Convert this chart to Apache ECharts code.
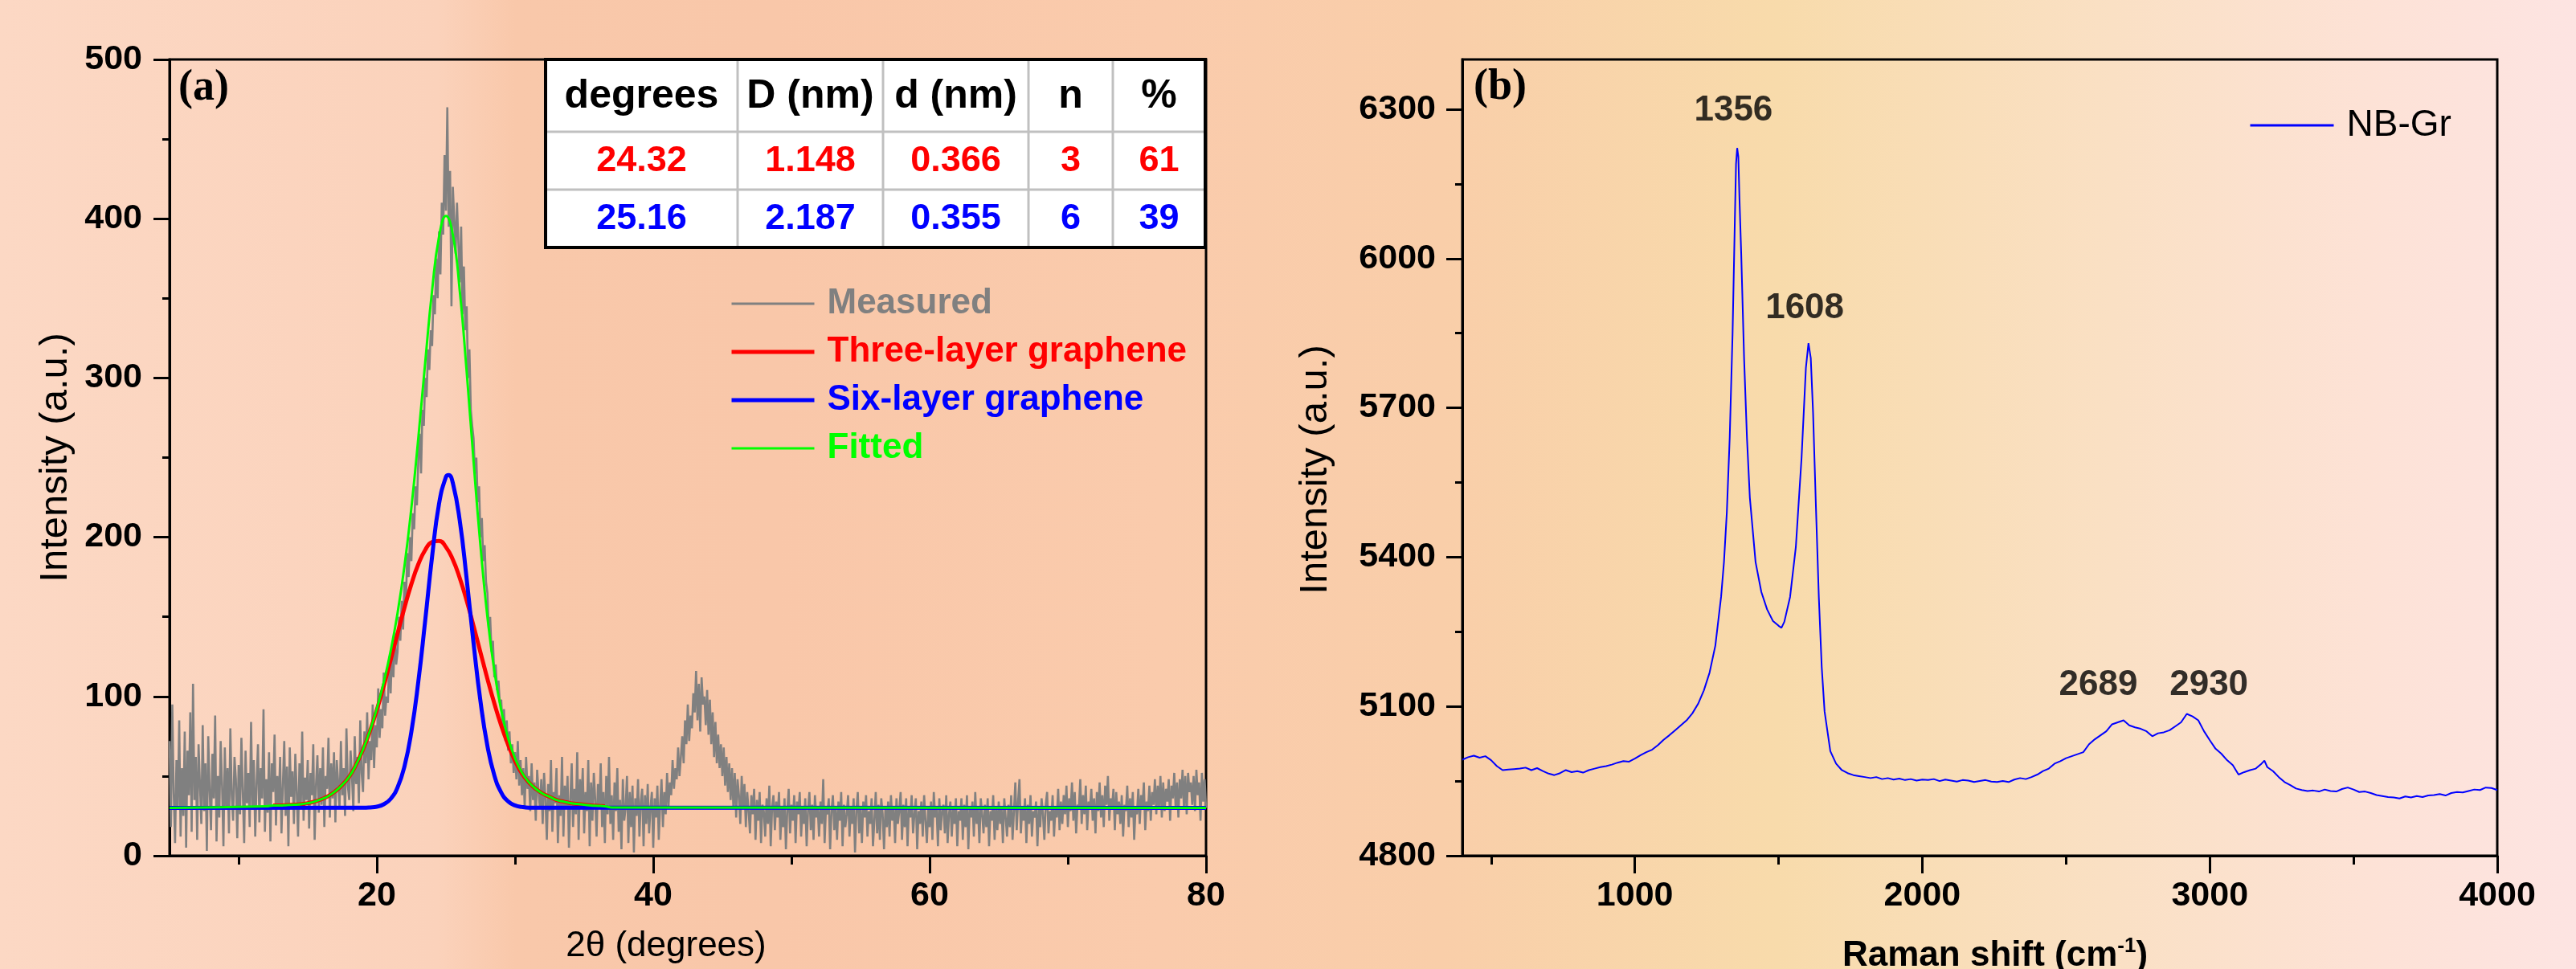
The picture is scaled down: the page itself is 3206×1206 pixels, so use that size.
<!DOCTYPE html>
<html>
<head>
<meta charset="utf-8">
<script src="https://cdn.jsdelivr.net/npm/echarts@6/dist/echarts.min.js"></script>
<style>
html,body{margin:0;padding:0;width:3206px;height:1206px;overflow:hidden;}
#c{width:3206px;height:1206px;
background:linear-gradient(to right,#fcd8c4 0%,#fbd2bb 17%,#f9c8aa 20%,#f9c7a9 30%,#facbac 45%,#f9cea9 56%,#f8dbab 69%,#fae0c4 82%,#fde2d6 92%,#fde4e2 100%);}
</style>
</head>
<body>
<div id="c"></div>
<script>
// ---------- (a) XRD data ----------
const xrdStart = 5, xrdStep = 0.1;
const measured = [
72,18,95,40,8,60,30,85,12,55,
25,78,5,66,38,90,15,108,35,62,
10,70,45,20,82,28,58,3,75,42,
16,64,36,88,9,50,24,72,44,6,
68,30,55,14,80,38,22,62,48,11,
57,26,74,40,8,66,33,52,18,84,
29,60,12,46,70,21,55,36,92,15,
48,27,65,9,58,40,76,19,50,31,
62,14,44,72,25,56,6,68,37,53,
20,64,41,12,58,30,78,22,49,35,
60,17,52,38,70,10,45,63,27,55,
32,68,18,50,42,74,24,58,36,65,
21,60,46,30,72,38,55,25,80,44,
35,66,50,28,75,45,62,33,85,52,
40,78,58,90,48,72,60,95,55,82,
68,105,74,92,80,115,88,100,96,125,
102,130,112,140,120,128,150,135,160,142,
172,158,190,175,200,185,215,205,232,220,
248,265,240,280,270,300,288,318,305,330,
320,352,340,375,350,392,365,410,390,440,
405,470,395,430,345,420,400,378,410,385,
360,395,340,370,330,345,300,318,280,270,
262,240,250,222,232,200,212,185,195,172,
165,142,150,128,135,112,120,104,110,96,
98,80,92,72,85,66,78,58,70,52,
65,48,72,44,60,38,55,30,62,42,
50,28,58,35,46,22,54,40,30,48,
20,52,36,10,45,28,60,15,40,33,
55,8,38,25,62,12,44,30,50,5,
35,58,18,42,26,65,10,48,32,55,
14,40,28,60,6,46,22,52,36,12,
45,30,58,18,40,8,50,26,62,20,
38,10,46,28,55,15,35,4,48,22,
30,50,8,40,18,44,2,36,25,48,
12,34,42,6,38,20,45,14,30,40,
5,36,24,44,10,32,48,18,40,26,
52,30,46,38,60,42,55,48,68,50,
62,75,58,85,70,95,72,88,80,102,
90,116,85,108,78,112,95,100,82,104,
76,98,70,90,62,84,58,76,55,70,
50,68,44,62,40,58,35,55,30,52,
24,48,38,20,50,30,45,18,40,28,
14,38,26,42,10,35,22,40,8,32,
28,12,36,20,44,6,30,38,16,34,
24,40,10,30,18,36,4,28,42,14,
32,22,38,8,34,26,40,12,30,20,
36,6,28,40,16,32,10,38,24,30,
12,34,20,48,8,30,26,36,4,28,
38,16,30,10,34,22,40,6,32,18,
26,38,12,30,20,36,2,28,40,14,
30,8,34,24,38,12,28,20,36,6,
22,40,14,32,10,36,26,4,30,18,
34,12,38,22,30,8,36,20,28,40,
10,32,18,36,6,30,24,38,14,26,
36,4,28,20,34,12,38,22,8,30,
18,34,10,40,24,30,6,36,16,28,
32,14,38,8,26,34,12,30,20,36,
6,28,22,36,10,32,18,38,4,30,
24,34,12,40,20,30,8,36,26,14,
32,18,36,6,28,22,38,10,30,16,
34,20,30,8,36,24,12,32,18,38,
10,28,46,16,34,48,14,30,22,36,
8,32,20,38,12,28,24,34,6,30,
18,36,26,10,32,40,14,28,22,38,
12,30,24,42,16,34,20,38,26,44,
18,36,28,46,22,40,14,32,30,48,
20,38,26,44,16,34,30,42,22,36,
14,40,28,46,24,38,18,44,32,50,
22,36,30,42,16,40,26,34,20,38,
12,32,28,44,18,36,24,40,10,30,
26,42,20,38,30,46,16,34,28,44,
22,40,32,48,26,44,30,50,24,46,
28,42,34,48,22,44,36,52,30,46,
24,48,36,54,30,50,26,52,40,46,
32,50,28,54,38,46,22,52,34,48,
30
];
const threeLayerX = [12.5,13,13.5,14,14.5,15,15.5,16,16.5,17,17.5,18,18.5,19,19.5,20,20.5,21,21.5,22,22.5,23,23.5,24,24.5,25,25.5,26,26.5,27,27.5,28,28.5,29,29.5,30,30.5,31,31.5,32,32.5,33,33.5,34,34.5,35,35.5,36,36.5];
const threeLayerY = [31.5,31.5,31.8,32,32.3,33,34,35.5,37.5,40.5,44.5,49.6,57.2,66.7,78.2,91.6,106.6,122.9,139.5,155.8,170.6,183,192,197,197.7,193.8,185.9,174.3,160.2,144.2,127.6,111.1,95.7,81.7,69.7,59.6,51.6,46,42,39,37,35,34,33,32.5,32,31.5,31.3,31];
const sixLayerX = [5,19,19.5,20,20.5,21,21.5,22,22.5,23,23.5,24,24.5,25,25.2,25.5,26,26.5,27,27.5,28,28.5,29,29.5,30,30.5,31,80];
const sixLayerY = [30,30.1,30.3,30.8,32.3,35.7,42.9,56.1,77.9,109.2,147.7,188,220.9,237.9,239,234,210.4,173.8,133.3,96.9,69,50.5,39.7,34.1,31.6,30.6,30.2,30];
const fittedX = [5,12,12.5,13,13.5,14,14.5,15,15.5,16,16.5,17,17.5,18,18.5,19,19.5,20,20.5,21,21.5,22,22.5,23,23.5,24,24.5,25,25.5,26,26.5,27,27.5,28,28.5,29,29.5,30,30.5,31,31.5,32,32.5,33,33.5,34,34.5,35,35.5,36,36.5,37,80];
const fittedY = [30,31,31.5,31.5,31.8,32,32.3,33,34,35.5,37.5,40.5,44.5,49.6,57.2,66.8,78.5,92.4,108.9,128.6,152.4,181.9,218.5,262.2,309.7,355,388.6,401.7,389.9,354.7,304,247.5,194.5,150.1,116.2,91.4,73.8,61.2,52.2,46.2,42,39,37,35,34,33,32.5,32,31.5,31.3,31,30.3,30];
const xrdMajorTicks = [20,40,60,80];
const xrdMinorTicks = [10,30,50,70];
const xrdYMajor = [0,100,200,300,400,500];
const xrdYMinor = [50,150,250,350,450];

// table
const tableHeader = ['degrees','D (nm)','d (nm)','n','%'];
const tableThree = ['24.32','1.148','0.366','3','61'];
const tableSix = ['25.16','2.187','0.355','6','39'];

// ---------- (b) Raman data ----------
const ramanShift = [
400,420,440,460,480,500,520,540,560,580,
600,620,640,660,680,700,720,740,760,780,
800,820,840,860,880,900,920,940,960,980,
1000,1020,1040,1060,1080,1100,1120,1140,1160,1180,
1200,1220,1240,1260,1280,1300,1310,1320,1330,1340,
1348,1352,1356,1360,1364,1370,1380,1390,1400,1420,
1440,1460,1480,1500,1510,1520,1540,1560,1580,1595,
1604,1608,1612,1620,1630,1640,1650,1660,1680,1700,
1720,1740,1760,1780,1800,1820,1840,1860,1880,1900,
1920,1940,1960,1980,2000,2020,2040,2060,2080,2100,
2120,2140,2160,2180,2200,2220,2240,2260,2280,2300,
2320,2340,2360,2380,2400,2420,2440,2460,2480,2500,
2520,2540,2560,2580,2600,2620,2640,2660,2680,2700,
2720,2740,2760,2780,2800,2820,2840,2860,2880,2900,
2920,2940,2960,2980,3000,3020,3040,3060,3080,3100,
3120,3140,3160,3180,3190,3200,3220,3240,3260,3280,
3300,3320,3340,3360,3380,3400,3420,3440,3460,3480,
3500,3520,3540,3560,3580,3600,3620,3640,3660,3680,
3700,3720,3740,3760,3780,3800,3820,3840,3860,3880,
3900,3920,3940,3960,3980,4000
];
const ramanIntensity = [
4993,4998,5001,4997,5000,4992,4980,4972,4973,4974,
4975,4977,4972,4976,4970,4965,4962,4966,4972,4968,
4970,4967,4972,4975,4978,4980,4983,4987,4990,4989,
4995,5002,5008,5013,5022,5033,5042,5052,5062,5072,
5086,5105,5132,5168,5222,5320,5390,5490,5640,5850,
6080,6190,6222,6205,6120,6010,5800,5640,5520,5390,
5330,5295,5272,5262,5258,5270,5320,5420,5600,5780,
5830,5832,5800,5690,5500,5320,5180,5090,5010,4985,
4972,4966,4962,4960,4958,4956,4958,4954,4956,4953,
4955,4952,4954,4951,4953,4952,4954,4950,4953,4951,
4949,4952,4951,4948,4950,4952,4949,4948,4950,4948,
4953,4956,4954,4958,4963,4970,4975,4985,4990,4996,
5000,5004,5008,5024,5034,5042,5050,5064,5068,5072,
5062,5058,5055,5050,5040,5046,5048,5052,5060,5068,
5085,5080,5072,5050,5032,5015,5005,4992,4982,4963,
4968,4972,4975,4985,4991,4978,4970,4958,4948,4942,
4935,4932,4930,4931,4929,4933,4930,4929,4934,4937,
4933,4928,4929,4926,4922,4920,4918,4917,4915,4919,
4917,4920,4918,4921,4922,4924,4921,4926,4928,4927,
4930,4933,4932,4937,4936,4932
];
const ramanPeakLabels = ['1356','1608','2689','2930'];
const ramanPeakLabelX = [1343,1591,2612,2997];
const ramanPeakLabelY = [6297,5900,5143,5143];
const ramanXMajor = [1000,2000,3000,4000];
const ramanXMinor = [500,1500,2500,3500];
const ramanYMajor = [4800,5100,5400,5700,6000,6300];
const ramanYMinor = [4950,5250,5550,5850,6150];

// ---------- build ----------
const zip = (xs, ys) => xs.map((x, i) => [x, ys[i]]);
const measuredPairs = measured.map((v, i) => [Math.round((xrdStart + i * xrdStep) * 10) / 10, v]);

const SANS = '"Liberation Sans", Arial, sans-serif';
const tickLabel = { fontSize: 43, fontWeight: 'bold', color: '#000', fontFamily: SANS };

function majorAxis(grid, min, max, ticks, labelMargin, tickLen, extra) {
  return Object.assign({
    gridIndex: grid, type: 'value', min: min, max: max,
    axisLine: { show: true, onZero: false, lineStyle: { color: '#000', width: 3 } },
    axisTick: { show: true, inside: false, length: tickLen, customValues: ticks, lineStyle: { color: '#000', width: 3 } },
    axisLabel: Object.assign({ show: true, customValues: ticks, margin: labelMargin, formatter: v => String(v) }, tickLabel),
    splitLine: { show: false }, minorTick: { show: false }
  }, extra);
}
function minorAxis(grid, min, max, ticks, tickLen, pos) {
  return {
    gridIndex: grid, type: 'value', min: min, max: max, position: pos,
    axisLine: { show: false, onZero: false },
    axisTick: { show: true, inside: false, length: tickLen, customValues: ticks, lineStyle: { color: '#000', width: 3 } },
    axisLabel: { show: false }, splitLine: { show: false }
  };
}

// table graphic
const colEdges = [679, 918, 1099, 1280, 1385, 1500];
const rowEdges = [74, 164, 236, 308];
const tableChildren = [];
tableChildren.push({ type: 'rect', shape: { x: colEdges[0], y: rowEdges[0], width: colEdges[5] - colEdges[0], height: rowEdges[3] - rowEdges[0] }, style: { fill: '#ffffff', stroke: null } });
[rowEdges[1], rowEdges[2]].forEach(y => tableChildren.push({ type: 'line', shape: { x1: colEdges[0], y1: y, x2: colEdges[5], y2: y }, style: { stroke: '#c0c0c0', lineWidth: 3 } }));
colEdges.slice(1, 5).forEach(x => tableChildren.push({ type: 'line', shape: { x1: x, y1: rowEdges[0], x2: x, y2: rowEdges[3] }, style: { stroke: '#c0c0c0', lineWidth: 3 } }));
tableChildren.push({ type: 'rect', shape: { x: colEdges[0], y: rowEdges[0], width: colEdges[5] - colEdges[0], height: rowEdges[3] - rowEdges[0] }, style: { fill: null, stroke: '#000', lineWidth: 4 } });
const tableRows = [[tableHeader, '#000', 50], [tableThree, '#ff0000', 45], [tableSix, '#0000ff', 45]];
tableRows.forEach((r, ri) => {
  r[0].forEach((t, ci) => {
    tableChildren.push({
      type: 'text',
      style: {
        text: t, x: (colEdges[ci] + colEdges[ci + 1]) / 2, y: (rowEdges[ri] + rowEdges[ri + 1]) / 2 + 1,
        align: 'center', verticalAlign: 'middle', textAlign: 'center', textVerticalAlign: 'middle',
        fill: r[1], font: 'bold ' + r[2] + 'px ' + SANS
      }
    });
  });
});

const chart = echarts.init(document.getElementById('c'), null, { renderer: 'canvas', width: 3206, height: 1206 });
chart.setOption({
  animation: false,
  backgroundColor: 'transparent',
  grid: [
    { left: 211, top: 74, width: 1290, height: 991, show: true, borderColor: '#000', borderWidth: 3, backgroundColor: 'transparent', containLabel: false, outerBoundsMode: 'none' },
    { left: 1820, top: 74, width: 1288, height: 991, show: true, borderColor: '#000', borderWidth: 3, backgroundColor: 'transparent', containLabel: false, outerBoundsMode: 'none' }
  ],
  xAxis: [
    majorAxis(0, 5, 80, xrdMajorTicks, 29, 22, {
      position: 'bottom', name: '2θ (degrees)', nameLocation: 'middle', nameGap: 91,
      nameTextStyle: { fontSize: 44, color: '#000', fontFamily: SANS, padding: [0, 54, 0, 0] }
    }),
    minorAxis(0, 5, 80, xrdMinorTicks, 11, 'bottom'),
    majorAxis(1, 400, 4000, ramanXMajor, 29, 22, {
      position: 'bottom', name: '{a|Raman shift (cm}{s|-1}{a|)}', nameLocation: 'middle', nameGap: 100,
      nameTextStyle: { padding: [0, 0, 0, 38], rich: {
        a: { fontSize: 44, fontWeight: 'bold', color: '#000', fontFamily: SANS, lineHeight: 50 },
        s: { fontSize: 26, fontWeight: 'bold', color: '#000', fontFamily: SANS, verticalAlign: 'top', lineHeight: 26 }
      } }
    }),
    minorAxis(1, 400, 4000, ramanXMinor, 11, 'bottom')
  ],
  yAxis: [
    majorAxis(0, 0, 500, xrdYMajor, 34, 20, {
      position: 'left', name: 'Intensity (a.u.)', nameLocation: 'middle', nameGap: 117,
      nameTextStyle: { fontSize: 49, color: '#000', fontFamily: SANS }
    }),
    minorAxis(0, 0, 500, xrdYMinor, 9, 'left'),
    majorAxis(1, 4800, 6400, ramanYMajor, 33, 20, {
      position: 'left', name: 'Intensity (a.u.)', nameLocation: 'middle', nameGap: 158,
      nameTextStyle: { fontSize: 49, color: '#000', fontFamily: SANS, padding: [0, 30, 0, 0] }
    }),
    minorAxis(1, 4800, 6400, ramanYMinor, 9, 'left')
  ],
  legend: [
    {
      orient: 'vertical', left: 908, top: 355, padding: 0, itemWidth: 103, itemHeight: 20, itemGap: 14,
      itemStyle: { opacity: 0, borderWidth: 0 },
      textStyle: { fontSize: 44, fontWeight: 'bold', fontFamily: SANS, lineHeight: 46, padding: [0, 0, 0, 11] },
      data: [
        { name: 'Measured', textStyle: { color: '#808080' }, lineStyle: { width: 3, color: '#808080' } },
        { name: 'Three-layer graphene', textStyle: { color: '#ff0000' }, lineStyle: { width: 5, color: '#ff0000' } },
        { name: 'Six-layer graphene', textStyle: { color: '#0000ff' }, lineStyle: { width: 5, color: '#0000ff' } },
        { name: 'Fitted', textStyle: { color: '#00ff00' }, lineStyle: { width: 3, color: '#00ff00' } }
      ]
    },
    {
      orient: 'vertical', left: 2799, top: 132, padding: 0, itemWidth: 104, itemHeight: 20,
      itemStyle: { opacity: 0, borderWidth: 0 },
      textStyle: { fontSize: 46, color: '#000', fontFamily: SANS, lineHeight: 48, padding: [0, 0, 0, 11] },
      data: [{ name: 'NB-Gr', lineStyle: { width: 3, color: '#0000ff' } }]
    }
  ],
  series: [
    { name: 'Measured', type: 'line', xAxisIndex: 0, yAxisIndex: 0, data: measuredPairs, symbol: 'none', sampling: null,
      lineStyle: { color: '#808080', width: 2.6 }, itemStyle: { color: '#808080' }, z: 2 },
    { name: 'Three-layer graphene', type: 'line', xAxisIndex: 0, yAxisIndex: 0, data: zip(threeLayerX, threeLayerY), symbol: 'none', smooth: true,
      lineStyle: { color: '#ff0000', width: 5 }, itemStyle: { color: '#ff0000' }, z: 3 },
    { name: 'Six-layer graphene', type: 'line', xAxisIndex: 0, yAxisIndex: 0, data: zip(sixLayerX, sixLayerY), symbol: 'none', smooth: true,
      lineStyle: { color: '#0000ff', width: 5 }, itemStyle: { color: '#0000ff' }, z: 4 },
    { name: 'Fitted', type: 'line', xAxisIndex: 0, yAxisIndex: 0, data: zip(fittedX, fittedY), symbol: 'none', smooth: true,
      lineStyle: { color: '#00ff00', width: 3 }, itemStyle: { color: '#00ff00' }, z: 5 },
    { name: 'NB-Gr', type: 'line', xAxisIndex: 2, yAxisIndex: 2, data: zip(ramanShift, ramanIntensity), symbol: 'none',
      lineStyle: { color: '#0000ff', width: 2 }, itemStyle: { color: '#0000ff' }, z: 3 },
    { name: 'peaks', type: 'scatter', xAxisIndex: 2, yAxisIndex: 2, symbolSize: 0, silent: true,
      data: ramanPeakLabels.map((t, i) => ({ name: t, value: [ramanPeakLabelX[i], ramanPeakLabelY[i]] })),
      label: { show: true, position: 'inside', formatter: '{b}', fontSize: 44, fontWeight: 'bold', color: '#000', fontFamily: SANS } }
  ],
  graphic: [
    { type: 'group', children: tableChildren, z: 100 },
    { type: 'text', style: { text: '(a)', x: 222, y: 83, textVerticalAlign: 'top', verticalAlign: 'top', fill: '#000', font: 'bold 54px "Liberation Serif", serif' }, z: 100 },
    { type: 'text', style: { text: '(b)', x: 1834, y: 82, textVerticalAlign: 'top', verticalAlign: 'top', fill: '#000', font: 'bold 54px "Liberation Serif", serif' }, z: 100 }
  ]
});
</script>
</body>
</html>
